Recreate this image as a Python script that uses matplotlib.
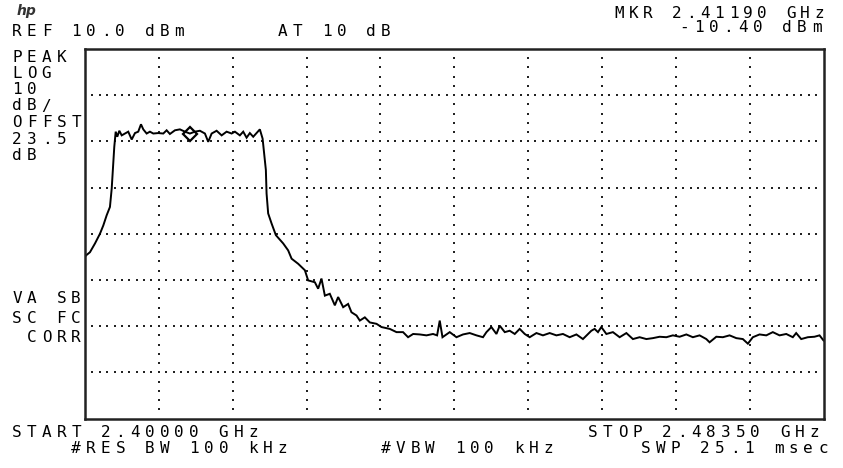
import matplotlib
matplotlib.use('Agg')
import matplotlib.pyplot as plt

# screen settings of the analyzer
ref_level = 10.0      # dBm, top graticule line
db_per_div = 10
start_mhz = 2400.0
stop_mhz = 2483.5

# trace (MHz, dBm)
trace_mhz = [
    2400.00, 2400.11, 2400.56, 2401.13, 2401.69, 2402.07, 2402.45, 2402.82, 2403.02,
    2403.20, 2403.31, 2403.47, 2403.65, 2403.88, 2404.15, 2404.52, 2404.89, 2405.28,
    2405.65, 2406.02, 2406.33, 2406.59, 2406.97, 2407.34, 2407.72, 2408.28, 2408.85,
    2409.23, 2409.60, 2410.17, 2410.73, 2411.30, 2411.86, 2412.43, 2412.99, 2413.56,
    2413.93, 2414.32, 2414.88, 2415.45, 2416.01, 2416.58, 2416.95, 2417.51, 2417.89,
    2418.27, 2418.64, 2419.02, 2419.40, 2419.77, 2420.08, 2420.26, 2420.45, 2420.53,
    2420.71, 2421.10, 2421.58, 2422.41, 2422.97, 2423.36, 2424.10, 2424.86, 2425.23,
    2425.99, 2426.36, 2426.74, 2427.12, 2427.68, 2428.25, 2428.62, 2429.19, 2429.75,
    2430.13, 2430.70, 2431.07, 2431.64, 2432.20, 2432.96, 2433.52, 2434.46, 2435.22,
    2435.96, 2436.53, 2437.10, 2437.85, 2438.61, 2439.35, 2439.81, 2440.11, 2440.42,
    2441.24, 2442.00, 2442.74, 2443.50, 2444.26, 2445.00, 2445.39, 2445.95, 2446.52,
    2446.89, 2447.46, 2448.02, 2448.59, 2449.15, 2449.72, 2450.28, 2451.04, 2451.78,
    2452.54, 2453.30, 2454.04, 2454.80, 2455.56, 2456.30, 2456.87, 2457.25, 2457.62,
    2458.00, 2458.38, 2458.95, 2459.69, 2460.45, 2461.21, 2461.95, 2462.71, 2463.47,
    2464.21, 2464.97, 2465.73, 2466.47, 2467.23, 2467.99, 2468.73, 2469.49, 2470.25,
    2470.62, 2471.38, 2472.12, 2472.88, 2473.64, 2474.38, 2474.95, 2475.51, 2476.27,
    2477.03, 2477.77, 2478.53, 2479.29, 2480.03, 2480.41, 2480.98, 2481.73, 2482.48,
    2483.05, 2483.50,
]
trace_dbm = [
    -35.0, -34.7, -34.0, -32.1, -30.0, -28.2, -26.0, -24.2, -20.2,
    -14.8, -11.2, -7.9, -9.0, -7.7, -8.7, -8.3, -7.9, -9.6,
    -8.2, -7.9, -6.3, -7.4, -8.3, -7.9, -8.3, -8.2, -8.3,
    -7.6, -8.4, -7.6, -7.4, -7.9, -8.3, -7.9, -7.7, -8.3,
    -10.1, -8.3, -7.7, -8.7, -7.9, -8.3, -7.9, -8.7, -7.9,
    -9.2, -8.2, -9.0, -8.2, -7.4, -9.4, -12.6, -16.2, -21.3,
    -25.6, -27.8, -30.3, -32.1, -33.6, -35.4, -36.5, -37.9, -40.1,
    -40.5, -41.9, -39.7, -43.4, -43.0, -45.5, -43.7, -45.9, -45.2,
    -47.0, -47.7, -48.8, -48.1, -49.2, -49.5, -50.2, -50.6, -51.3,
    -51.3, -52.4, -51.7, -51.8, -52.0, -51.7, -52.0, -48.8, -52.4,
    -51.3, -52.4, -51.8, -51.5, -52.0, -52.4, -51.3, -50.2, -51.7,
    -49.9, -51.3, -51.0, -51.7, -50.6, -51.7, -52.4, -51.5, -52.0,
    -51.5, -52.0, -51.7, -52.4, -51.8, -52.8, -51.7, -51.0, -50.6,
    -51.3, -50.2, -51.7, -51.3, -52.4, -51.5, -52.8, -52.4, -52.8,
    -52.6, -52.3, -52.4, -52.0, -52.3, -51.8, -52.4, -52.0, -52.8,
    -53.5, -52.3, -52.4, -52.0, -52.6, -52.8, -53.8, -52.4, -51.8,
    -52.0, -51.3, -52.0, -51.7, -52.4, -51.5, -52.8, -52.4, -52.3,
    -52.0, -53.1,
]

marker_mhz = 2411.90
marker_dbm = -8.3

# annotation rows: (text, left x px, baseline y px, pitch px)
text_rows = [
    ('REF 10.0 dBm      AT 10 dB', 12, 36.5, 14.75),
    ('MKR 2.41190 GHz', 614, 18, 14.3),
    ('-10.40 dBm', 679, 32, 14.75),
    ('PEAK', 12, 61.5, 14.75), ('LOG', 12, 78, 14.75), ('10', 12, 94, 14.75),
    ('dB/', 12, 110.5, 14.75), ('OFFST', 12, 127, 14.75), ('23.5', 12, 143.5, 14.75),
    ('dB', 12, 160, 14.75),
    ('VA SB', 12, 303, 14.75), ('SC FC', 12, 323, 14.75), (' CORR', 12, 342, 14.75),
    ('START 2.40000 GHz', 12, 437, 14.75), ('STOP 2.48350 GHz', 588, 437, 14.75),
    ('    #RES BW 100 kHz', 12, 453, 14.75), ('#VBW 100 kHz', 381, 453, 14.75),
    ('SWP 25.1 msec', 641, 453, 14.75),
]

W, H = 843, 468
CHAR_W = 10

fig = plt.figure(figsize=(W / 100, H / 100), dpi=100)
ax = fig.add_axes([85 / W, 1 - 418.5 / H, (823.5 - 85) / W, (418.5 - 49) / H])
ax.set_xlim(start_mhz, stop_mhz)
ax.set_ylim(ref_level - 8 * db_per_div, ref_level)
ax.set_xticks([])
ax.set_yticks([])
for s in ax.spines.values():
    s.set_linewidth(1.8)
    s.set_color('#222222')

# dotted graticule: 10 dots per division across, 5 per division down
span = stop_mhz - start_mhz
for k in range(1, 8):
    xs = [start_mhz + span * j / 100 for j in range(1, 100)]
    ax.scatter(xs, [ref_level - k * db_per_div] * len(xs), s=2.0, marker='s',
               color='#222222', linewidths=0)
for k in range(1, 10):
    ys = [ref_level - db_per_div * j / 5 for j in range(1, 40)]
    ax.scatter([start_mhz + span * k / 10] * len(ys), ys, s=2.0, marker='s',
               color='#222222', linewidths=0)

ax.plot(trace_mhz, trace_dbm, color='black', lw=1.4, solid_joinstyle='miter')
ax.plot([marker_mhz], [marker_dbm], marker='D', ms=7, mfc='none', mec='black', mew=1.6)


def hp_text(s, x, y, pitch):
    # fixed-pitch screen font, one cell per character
    for i, ch in enumerate(s):
        if ch == ' ':
            continue
        fig.text((x + i * pitch + CHAR_W / 2) / W, 1 - y / H, ch,
                 ha='center', va='baseline', family='DejaVu Sans Mono',
                 fontsize=11.5, color='black')


for s, x, y, p in text_rows:
    hp_text(s, x, y, p)

fig.text(17 / W, 1 - 15 / H, 'hp', style='italic', weight='bold', fontsize=10,
         family='DejaVu Sans', color='#333333')

fig.savefig('out.png', dpi=100)
